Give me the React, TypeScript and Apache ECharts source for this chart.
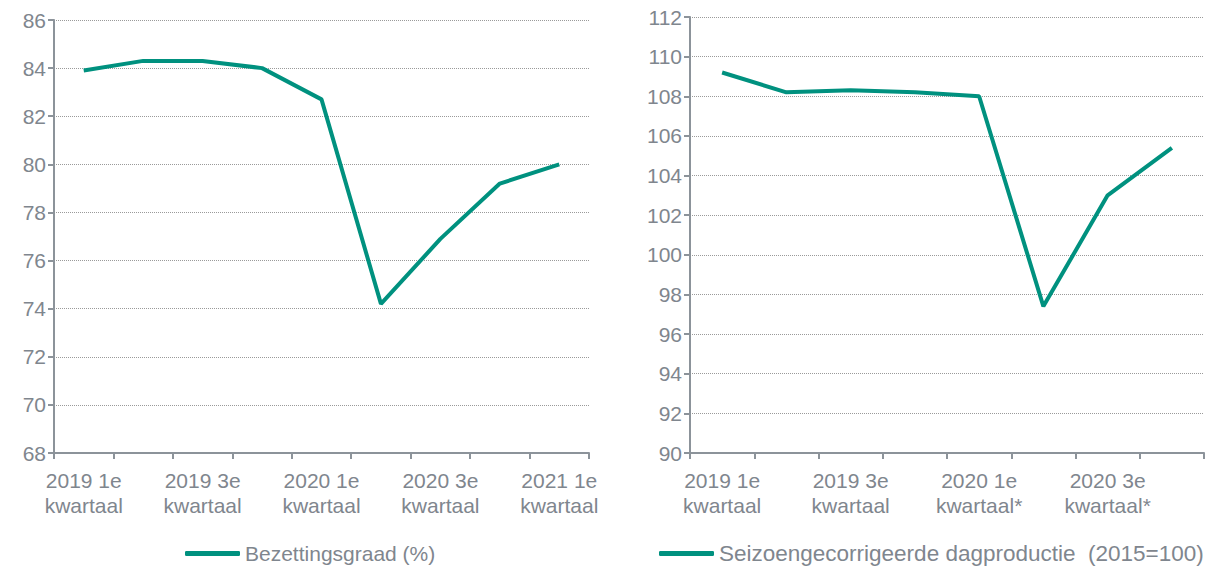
import React, { useEffect, useRef } from "react";
import * as echarts from "echarts";

const leftCategories = [
  "2019 1e\nkwartaal", "2019 2e\nkwartaal", "2019 3e\nkwartaal", "2019 4e\nkwartaal",
  "2020 1e\nkwartaal", "2020 2e\nkwartaal", "2020 3e\nkwartaal", "2020 4e\nkwartaal",
  "2021 1e\nkwartaal",
];
const leftValues = [83.9, 84.3, 84.3, 84.0, 82.7, 74.2, 76.9, 79.2, 80.0];
const leftName = "Bezettingsgraad (%)";

const rightCategories = [
  "2019 1e\nkwartaal", "2019 2e\nkwartaal", "2019 3e\nkwartaal", "2019 4e\nkwartaal",
  "2020 1e\nkwartaal*", "2020 2e\nkwartaal*", "2020 3e\nkwartaal*", "2020 4e\nkwartaal*",
];
const rightValues = [109.2, 108.2, 108.3, 108.2, 108.0, 97.4, 103.0, 105.4];
const rightName = "Seizoengecorrigeerde dagproductie  (2015=100)";

const FONT = "'Liberation Sans', Arial, sans-serif";
const TEXT = "#7f868e";
const AXIS = "#8c939a";
const LINE = "#00917f";
const FS = 21;

export default function App() {
  const ref = useRef<HTMLDivElement>(null);
  useEffect(() => {
    if (!ref.current) return;
    const chart = echarts.init(ref.current, undefined, { renderer: "svg" });
    const xAxisBase = (gridIndex: number, data: string[]) => ({
      type: "category" as const,
      gridIndex,
      data,
      boundaryGap: true,
      axisLine: { show: true, lineStyle: { color: AXIS, width: 2 } },
      axisTick: { show: true, interval: 0, length: 6, lineStyle: { color: AXIS, width: 2 } },
      axisLabel: {
        interval: 1,
        color: TEXT,
        fontSize: FS,
        fontFamily: FONT,
        lineHeight: 25,
        margin: 15,
      },
      splitLine: { show: false },
    });
    const yAxisBase = (gridIndex: number, min: number, max: number) => ({
      type: "value" as const,
      gridIndex,
      min,
      max,
      interval: 2,
      axisLine: { show: true, lineStyle: { color: AXIS, width: 2 } },
      axisTick: { show: true, length: 6, lineStyle: { color: AXIS, width: 2 } },
      axisLabel: { color: TEXT, fontSize: FS, fontFamily: FONT, margin: 8 },
      splitLine: { show: true, lineStyle: { color: "#9a9a9a", width: 1, type: "dotted" as const } },
    });
    chart.setOption({
      animation: false,
      backgroundColor: "#ffffff",
      grid: [
        { left: 54, top: 20, width: 535, height: 433 },
        { left: 690, top: 17, width: 514, height: 436 },
      ],
      xAxis: [xAxisBase(0, leftCategories), xAxisBase(1, rightCategories)],
      yAxis: [yAxisBase(0, 68, 86), yAxisBase(1, 90, 112)],
      legend: [
        {
          data: [leftName],
          left: 185,
          top: 543,
          itemWidth: 55,
          itemHeight: 5,
          icon: "roundRect",
          textStyle: { color: TEXT, fontSize: FS, fontFamily: FONT },
          padding: 0,
        },
        {
          data: [rightName],
          left: 659,
          top: 542,
          itemWidth: 55,
          itemHeight: 5,
          icon: "roundRect",
          textStyle: { color: TEXT, fontSize: 22.5, fontFamily: FONT },
          padding: 0,
        },
      ],
      series: [
        {
          name: leftName,
          type: "line",
          xAxisIndex: 0,
          yAxisIndex: 0,
          data: leftValues,
          symbol: "none",
          lineStyle: { color: LINE, width: 4 },
          itemStyle: { color: LINE },
        },
        {
          name: rightName,
          type: "line",
          xAxisIndex: 1,
          yAxisIndex: 1,
          data: rightValues,
          symbol: "none",
          lineStyle: { color: LINE, width: 4 },
          itemStyle: { color: LINE },
        },
      ],
    });
    return () => chart.dispose();
  }, []);
  return (
    <div
      ref={ref}
      style={{ position: "fixed", left: 0, top: 0, width: 1210, height: 569, background: "#fff" }}
    />
  );
}
